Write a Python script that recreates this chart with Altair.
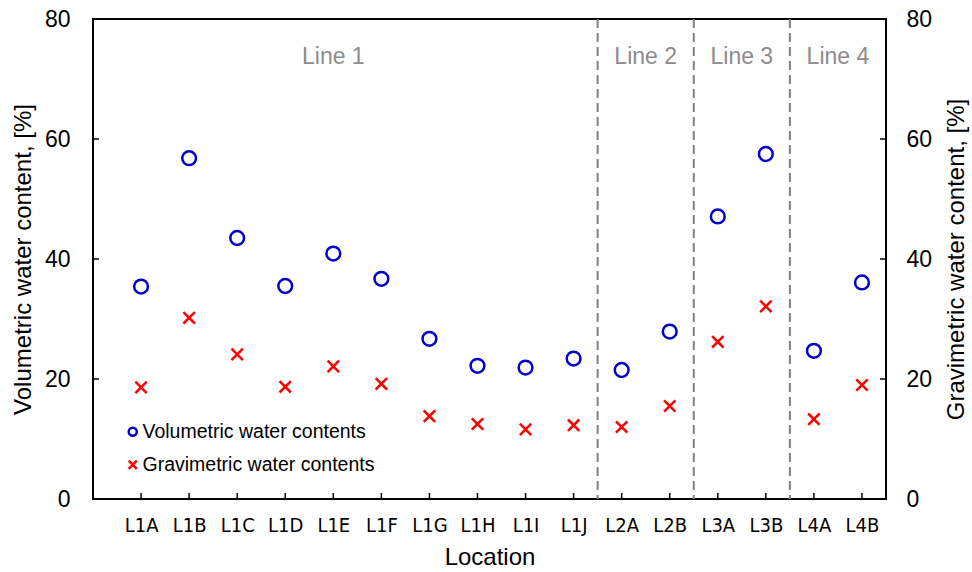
import altair as alt
import pandas as pd

# Sampling locations along the four survey lines
locations = ["L1A", "L1B", "L1C", "L1D", "L1E", "L1F", "L1G", "L1H", "L1I", "L1J",
             "L2A", "L2B", "L3A", "L3B", "L4A", "L4B"]
volumetric = [35.4, 56.8, 43.5, 35.5, 40.9, 36.7, 26.7, 22.2, 21.9, 23.4,
              21.5, 27.9, 47.1, 57.5, 24.7, 36.1]
gravimetric = [18.6, 30.2, 24.1, 18.7, 22.1, 19.2, 13.8, 12.5, 11.6, 12.3,
               12.0, 15.5, 26.2, 32.1, 13.3, 19.0]

series_names = ["Volumetric water contents", "Gravimetric water contents"]
line_names = ["Line 1", "Line 2", "Line 3", "Line 4"]
line_label_pos = [5.0, 11.5, 13.5, 15.5]
line_bounds = [10.5, 12.5, 14.5]
y_ticks = [0, 20, 40, 60, 80]

W, H = 793, 480
ARIAL = "Liberation Sans, Arial, sans-serif"
NARROW = "Liberation Sans Narrow, Arial Narrow, DejaVu Sans Condensed, sans-serif"
X_SHAPE = "M-1,-1L1,1M-1,1L1,-1"

idx = list(range(1, len(locations) + 1))
vol_df = pd.DataFrame({"idx": idx, "loc": locations, "value": volumetric,
                       "series": series_names[0]})
grav_df = pd.DataFrame({"idx": idx, "loc": locations, "value": gravimetric,
                        "series": series_names[1]})
xtick_df = pd.DataFrame({"idx": idx})
ytick_df = pd.DataFrame({"v": y_ticks})
bound_df = pd.DataFrame({"idx": line_bounds})
line_df = pd.DataFrame({"name": line_names, "idx": line_label_pos})

x_scale = alt.Scale(domain=[0, 16.5], nice=False, zero=False)
y_scale = alt.Scale(domain=[0, 80], nice=False)

label_expr = "[" + ",".join(f"'{s}'" for s in locations) + "][datum.value - 1]"

x_axis = alt.Axis(values=idx, labelExpr=label_expr, ticks=False, domain=False,
                  grid=False, labelPadding=16, labelFont=NARROW, labelFontSize=20,
                  labelColor="black", title="Location", titleFont=ARIAL,
                  titleFontSize=24, titleFontWeight="normal", titleColor="black",
                  titlePadding=10)
x_enc = alt.X("idx:Q", scale=x_scale, axis=x_axis)

legend = alt.Legend(title=None, orient="none", legendX=30, legendY=403,
                    labelFontSize=19.5, labelFont=ARIAL, labelColor="black",
                    symbolSize=65, symbolStrokeWidth=2.5, rowPadding=12,
                    labelOffset=0, padding=0, labelLimit=400)
color = alt.Color("series:N",
                  scale=alt.Scale(domain=series_names, range=["#0000CC", "#FF0000"]),
                  legend=legend)
shape = alt.Shape("series:N",
                  scale=alt.Scale(domain=series_names, range=["circle", X_SHAPE]),
                  legend=legend)

vol = alt.Chart(vol_df).mark_point(filled=False, size=190, strokeWidth=2.5,
                                   opacity=1).encode(
    x=x_enc,
    y=alt.Y("value:Q", scale=y_scale,
            axis=alt.Axis(values=y_ticks, ticks=False, domain=False, grid=False,
                          labelPadding=23, labelFont=ARIAL, labelFontSize=23,
                          labelColor="black",
                          title="Volumetric water content, [%]", titleFont=ARIAL,
                          titleFontSize=24, titleFontWeight="normal",
                          titleColor="black", titlePadding=9)),
    color=color,
    shape=shape,
)

grav = alt.Chart(grav_df).mark_point(filled=False, size=130, strokeWidth=2.5,
                                     opacity=1).encode(
    x=x_enc,
    y=alt.Y("value:Q", scale=y_scale,
            axis=alt.Axis(orient="right", values=y_ticks, ticks=False, domain=False,
                          grid=False, labelPadding=20, labelFont=ARIAL,
                          labelFontSize=23, labelColor="black",
                          title="Gravimetric water content, [%]", titleFont=ARIAL,
                          titleFontSize=24, titleFontWeight="normal",
                          titleColor="black", titleAngle=270, titleBaseline="top",
                          titlePadding=13)),
    color=color,
    shape=shape,
)

# Dashed separators between survey lines and their names
bounds = alt.Chart(bound_df).mark_rule(color="#808080", strokeWidth=2,
                                       strokeDash=[9, 5]).encode(x=x_enc)

line_labels = alt.Chart(line_df).mark_text(fontSize=23, font=ARIAL,
                                           color="#8c8c8c").encode(
    x=x_enc,
    y=alt.value(38),
    text="name:N",
)

# Inward tick marks on the bottom, left and right edges
xticks = alt.Chart(xtick_df).mark_rule(color="black", strokeWidth=1.5).encode(
    x=x_enc,
    y=alt.value(H), y2=alt.value(H - 6),
)
lticks = alt.Chart(ytick_df).mark_rule(color="black", strokeWidth=1.5).encode(
    y=alt.Y("v:Q", scale=y_scale, axis=None),
    x=alt.value(0), x2=alt.value(6),
)
rticks = alt.Chart(ytick_df).mark_rule(color="black", strokeWidth=1.5).encode(
    y=alt.Y("v:Q", scale=y_scale, axis=None),
    x=alt.value(W - 6), x2=alt.value(W),
)

chart = alt.layer(vol, grav, bounds, line_labels, xticks, lticks, rticks).resolve_scale(
    y="independent"
).properties(
    width=W, height=H,
    autosize=alt.AutoSizeParams(type="none"),
    padding={"left": 93, "top": 19, "right": 86, "bottom": 73},
    background="white",
).configure_view(stroke="black", strokeWidth=2)

chart.save("out.html", embed_options={"renderer": "svg", "actions": False})
